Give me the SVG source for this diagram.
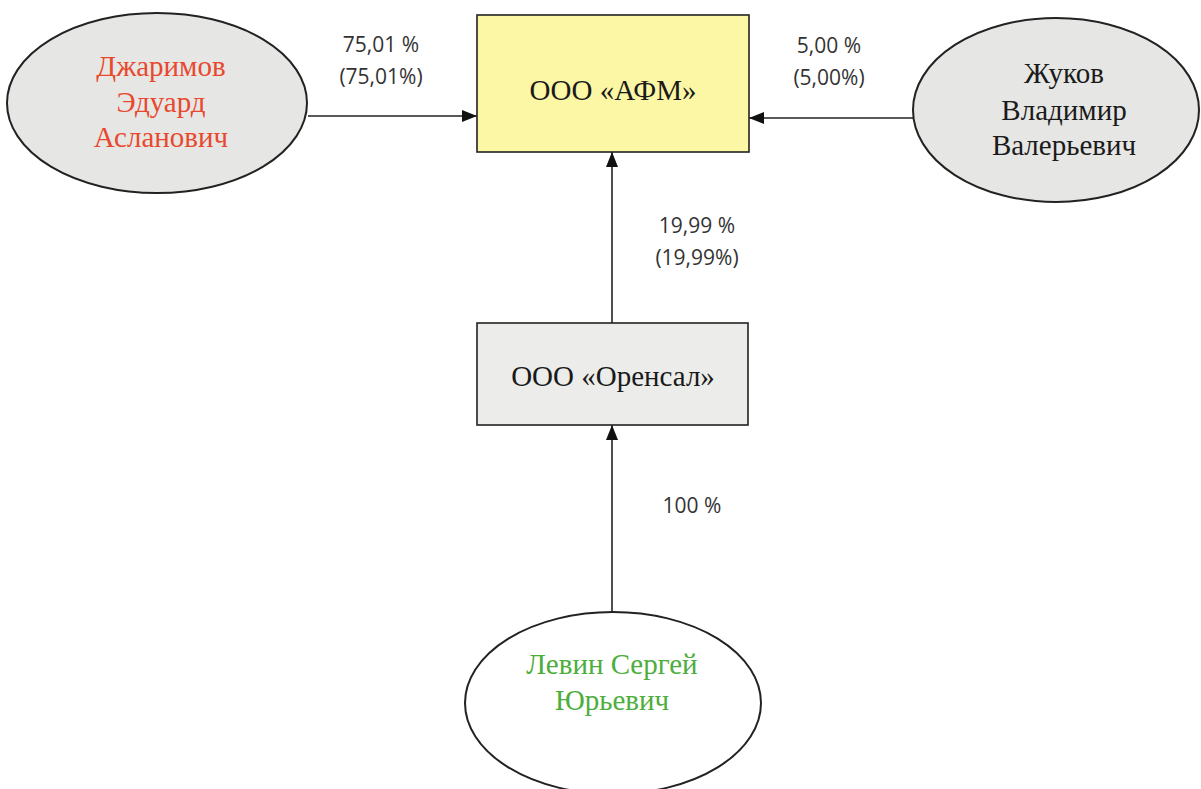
<svg xmlns="http://www.w3.org/2000/svg" width="1201" height="789" viewBox="0 0 1201 789">
<style>
.node{stroke:#222;stroke-width:2}
.serif{font-family:"Liberation Serif","Times New Roman",serif;font-size:29px;text-anchor:middle;fill:#1a1a1a}
.lbl{font-family:"Open Sans","Liberation Sans",sans-serif;font-size:21px;text-anchor:middle;fill:#333}
.conn{stroke:#222;stroke-width:1.6;fill:none;marker-end:url(#ah)}
</style>
<defs>
<marker id="ah" viewBox="0 0 15 12" refX="15" refY="6" markerWidth="15" markerHeight="12" markerUnits="userSpaceOnUse" orient="auto">
<path d="M0,0 L15,6 L0,12 Z" fill="#111"/>
</marker>
</defs>
<rect width="1201" height="789" fill="#ffffff"/>
<g id="connectors">
<line class="conn" x1="308" y1="116" x2="477" y2="116"/>
<line class="conn" x1="913" y1="118" x2="749" y2="118"/>
<line class="conn" x1="612" y1="323" x2="612" y2="152"/>
<line class="conn" x1="612" y1="612" x2="612" y2="425"/>
<text class="lbl" x="381" y="52">75,01 %</text>
<text class="lbl" x="381" y="84">(75,01%)</text>
<text class="lbl" x="829" y="53">5,00 %</text>
<text class="lbl" x="829" y="85">(5,00%)</text>
<text class="lbl" x="697" y="233">19,99 %</text>
<text class="lbl" x="697" y="265">(19,99%)</text>
<text class="lbl" x="692" y="513">100 %</text>
</g>
<g id="n_djarimov">
<ellipse class="node" cx="157" cy="103" rx="150" ry="90" fill="#e6e6e4"/>
<text class="serif" x="161" y="76" style="fill:#e8492e">Джаримов</text>
<text class="serif" x="161" y="112" style="fill:#e8492e">Эдуард</text>
<text class="serif" x="161" y="147" style="fill:#e8492e">Асланович</text>
</g>
<g id="n_afm">
<rect class="node" x="477" y="15" width="272" height="137" fill="#fcf7a4" style="stroke-width:1.6"/>
<text class="serif" x="613" y="100">ООО «АФМ»</text>
</g>
<g id="n_zhukov">
<ellipse class="node" cx="1056" cy="110" rx="143" ry="92" fill="#e6e6e4"/>
<text class="serif" x="1064" y="83">Жуков</text>
<text class="serif" x="1064" y="120">Владимир</text>
<text class="serif" x="1064" y="155">Валерьевич</text>
</g>
<g id="n_orensal">
<rect class="node" x="477" y="323" width="271" height="102" fill="#ececea" style="stroke-width:1.6"/>
<text class="serif" x="613" y="386">ООО «Оренсал»</text>
</g>
<g id="n_levin">
<ellipse class="node" cx="613" cy="703" rx="148" ry="91" fill="#ffffff"/>
<text class="serif" x="612" y="674" style="fill:#4cae3c">Левин Сергей</text>
<text class="serif" x="612" y="710" style="fill:#4cae3c">Юрьевич</text>
</g>
</svg>
